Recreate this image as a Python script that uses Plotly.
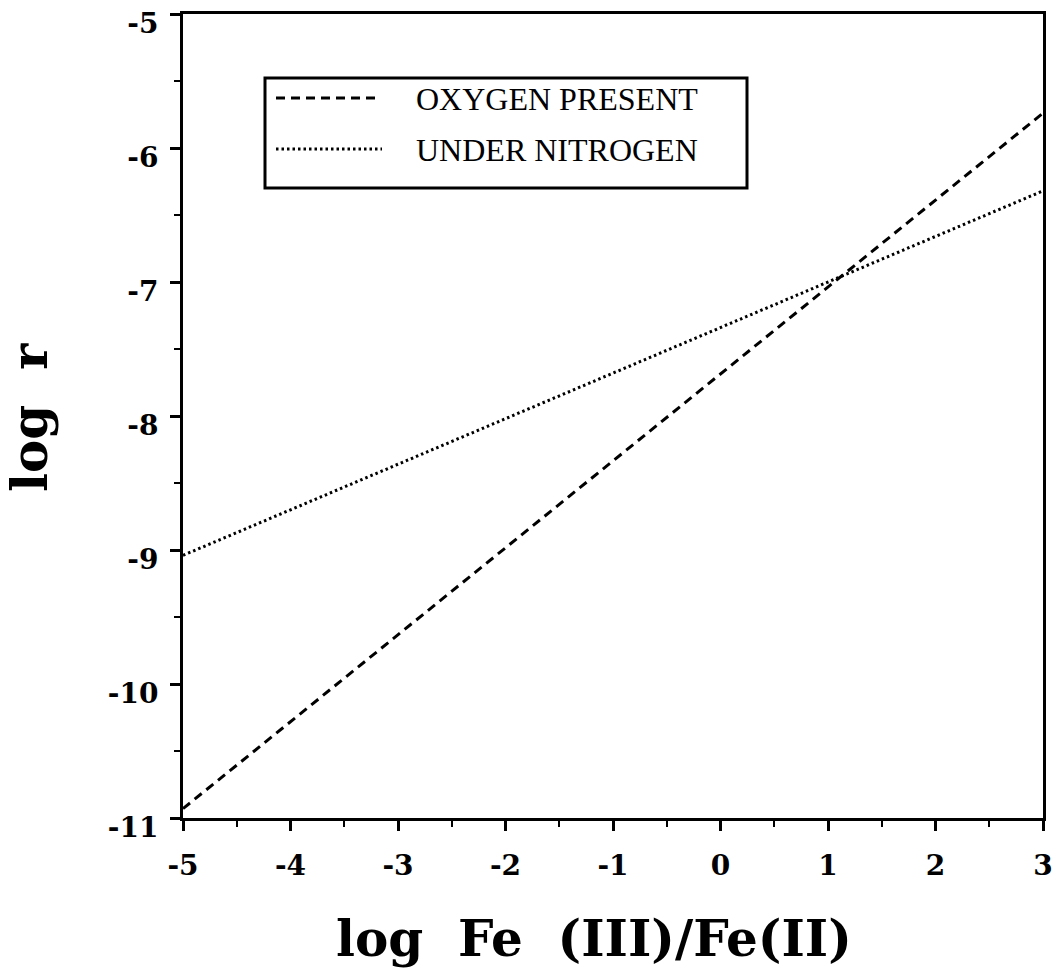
import plotly.graph_objects as go

# Straight-line fits of log r against log Fe(III)/Fe(II), end points of each line
log_fe_ratio = [-5, 3]
oxygen_present = [-10.93, -5.74]
under_nitrogen = [-9.04, -6.32]

series_names = ["OXYGEN PRESENT", "UNDER NITROGEN"]

x_ticks = [-5, -4, -3, -2, -1, 0, 1, 2, 3]
y_ticks = [-11, -10, -9, -8, -7, -6, -5]

W, H = 1062, 973
L, R, T, B = 183, 19, 14, 155
plot_w = W - L - R
plot_h = H - T - B


def px(xp):
    return (xp - L) / plot_w


def py(yp):
    return (H - B - yp) / plot_h


fig = go.Figure()
fig.add_trace(go.Scatter(
    x=log_fe_ratio, y=oxygen_present, mode="lines", name=series_names[0],
    line=dict(color="black", width=3, dash="9px,6px"), showlegend=False,
))
fig.add_trace(go.Scatter(
    x=log_fe_ratio, y=under_nitrogen, mode="lines", name=series_names[1],
    line=dict(color="black", width=3, dash="2.5px,3px"), showlegend=False,
))

tick_font = dict(family="DejaVu Serif", size=28, color="black", weight="bold")

fig.update_xaxes(
    range=[-5, 3], tickvals=x_ticks, ticktext=[str(v) for v in x_ticks],
    ticks="outside", ticklen=10, tickwidth=2.5, tickcolor="black",
    minor=dict(dtick=0.5, tick0=0, ticks="outside", ticklen=6, tickwidth=2, tickcolor="black"),
    showline=True, linewidth=3, linecolor="black", mirror=True,
    showgrid=False, zeroline=False, tickfont=tick_font, ticklabelstandoff=10,
    automargin=False, ticklabeloverflow="allow",
)
fig.update_yaxes(
    range=[-11, -5], tickvals=y_ticks, ticktext=[str(v) for v in y_ticks],
    ticks="outside", ticklen=10, tickwidth=2.5, tickcolor="black",
    minor=dict(dtick=0.5, tick0=0, ticks="outside", ticklen=6, tickwidth=2, tickcolor="black"),
    showline=True, linewidth=3, linecolor="black", mirror=True,
    showgrid=False, zeroline=False, tickfont=tick_font, ticklabelstandoff=6,
    ticklabelshift=9,
    automargin=False, ticklabeloverflow="allow",
)

title_font = dict(family="DejaVu Serif", size=50, color="black", weight="bold")
legend_font = dict(family="Liberation Serif", size=32, color="black")

shapes = [
    # legend box
    dict(type="rect", xref="paper", yref="paper",
         x0=px(265), x1=px(747), y0=py(188), y1=py(78),
         line=dict(color="black", width=3), fillcolor="white", layer="below"),
    # legend samples
    dict(type="line", xref="paper", yref="paper",
         x0=px(276), x1=px(380), y0=py(98), y1=py(98),
         line=dict(color="black", width=3, dash="9px,6px")),
    dict(type="line", xref="paper", yref="paper",
         x0=px(276), x1=px(382), y0=py(149), y1=py(149),
         line=dict(color="black", width=3, dash="2.5px,3px")),
]

annotations = [
    dict(text=series_names[0], xref="paper", yref="paper", x=px(414), y=py(99),
         xanchor="left", yanchor="middle", showarrow=False, font=legend_font),
    dict(text=series_names[1], xref="paper", yref="paper", x=px(414), y=py(150),
         xanchor="left", yanchor="middle", showarrow=False, font=legend_font),
    dict(text="log\u00a0\u00a0Fe\u00a0\u00a0(III)/Fe(II)", xref="paper", yref="paper",
         x=px(594), y=py(938), xanchor="center", yanchor="middle",
         showarrow=False, font=title_font),
    dict(text="log\u00a0\u00a0r", xref="paper", yref="paper",
         x=px(29), y=py(418), xanchor="center", yanchor="middle",
         textangle=-90, showarrow=False, font=title_font),
]

fig.update_layout(
    width=W, height=H,
    margin=dict(l=L, r=R, t=T, b=B),
    paper_bgcolor="white", plot_bgcolor="white",
    shapes=shapes, annotations=annotations,
)

fig.write_html("out.html")
